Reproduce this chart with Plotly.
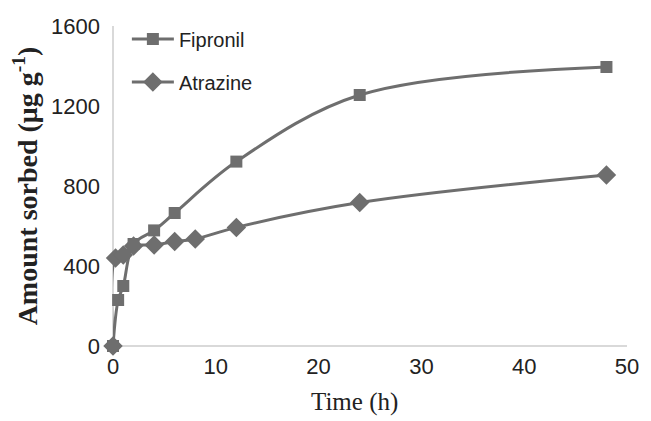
import plotly.graph_objects as go

fip_t = [0, 0.5, 1, 2, 4, 6, 12, 24, 48]
fip_v = [0, 230, 300, 510, 578, 665, 922, 1255, 1395]
atr_t = [0, 0.25, 1, 2, 4, 6, 8, 12, 24, 48]
atr_v = [0, 440, 455, 500, 505, 522, 535, 593, 717, 855]

col = "#6e6e6e"
fig = go.Figure()
fig.add_trace(go.Scatter(x=fip_t, y=fip_v, name="Fipronil", mode="lines+markers",
                         line=dict(color=col, width=3, shape="spline", smoothing=1.0),
                         marker=dict(symbol="square", size=12, color=col),
                         cliponaxis=False, legendgroup="a"))
fig.add_trace(go.Scatter(x=atr_t, y=atr_v, name="Atrazine", mode="lines+markers",
                         line=dict(color=col, width=3, shape="spline", smoothing=1.0),
                         marker=dict(symbol="diamond", size=15, color=col),
                         cliponaxis=False, legendgroup="b"))

fig.update_layout(
    width=651, height=421,
    margin=dict(l=113, r=19, t=26, b=75),
    paper_bgcolor="white", plot_bgcolor="white",
    showlegend=True,
    legend=dict(x=0.027, y=1.02, xanchor="left", yanchor="top", itemwidth=42,
                font=dict(family="Liberation Sans, Arial", size=20, color="#222"),
                tracegroupgap=14, bgcolor="rgba(0,0,0,0)"),
    xaxis=dict(range=[0, 50], tickvals=[0, 10, 20, 30, 40, 50], showgrid=False,
               zeroline=False, showline=False,
               tickfont=dict(family="Liberation Sans, Arial", size=22, color="#222"),
               ticks="", ticklabelstandoff=5),
    yaxis=dict(range=[0, 1600], tickvals=[0, 400, 800, 1200, 1600], showgrid=False,
               zeroline=True, zerolinecolor="#d9d9d9", zerolinewidth=2,
               showline=False,
               tickfont=dict(family="Liberation Sans, Arial", size=22, color="#222"),
               ticks="", ticklabelstandoff=12,
               title=dict(text="<b>Amount sorbed (μg g<sup>-1</sup>)</b>", standoff=5,
                          font=dict(family="Liberation Serif, Times New Roman", size=28, color="#222"))),
)
fig.add_annotation(text="Time (h)", xref="paper", yref="paper",
                   x=(357 - 113) / 519, y=-56 / 320, xanchor="center", yanchor="middle",
                   showarrow=False,
                   font=dict(family="Liberation Serif, Times New Roman", size=25, color="#222"))
fig.add_shape(type="line", xref="paper", yref="paper", x0=0, x1=0, y0=0, y1=1,
              line=dict(color="#d9d9d9", width=2), layer="below")
fig.write_html("out.html")
